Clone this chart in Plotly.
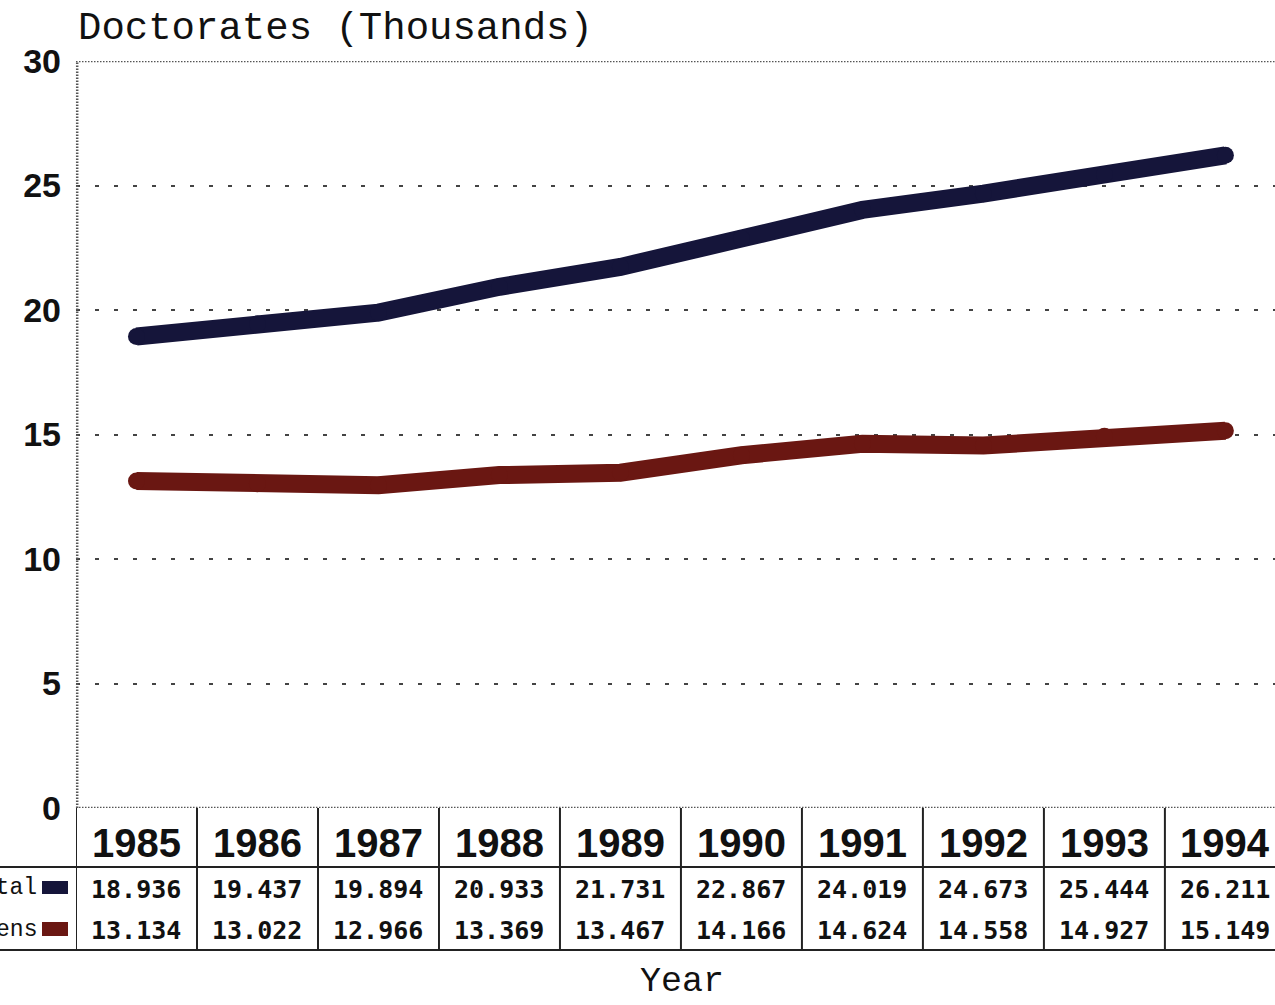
import plotly.graph_objects as go

years = ["1985", "1986", "1987", "1988", "1989", "1990", "1991", "1992", "1993", "1994"]
total = [18.936, 19.437, 19.894, 20.933, 21.731, 22.867, 24.019, 24.673, 25.444, 26.211]
citizens = [13.134, 13.022, 12.966, 13.369, 13.467, 14.166, 14.624, 14.558, 14.927, 15.149]
series_names = ["Total", "U.S. Citizens"]
series_colors = ["#15153a", "#6a1712"]
y_ticks = [0, 5, 10, 15, 20, 25, 30]

W, H = 1275, 1005
L, T, B = 76, 61, 197
plot_h = H - T - B
plot_w = W - L

def py(pix):
    return (H - B - pix) / plot_h

def px(pix):
    return (pix - L) / plot_w

xi = list(range(len(years)))
fig = go.Figure()
for name, vals, col in zip(series_names, [total, citizens], series_colors):
    fig.add_trace(go.Scatter(x=xi, y=vals, name=name, mode="lines+markers",
                             line=dict(color=col, width=18),
                             marker=dict(color=col, size=17),
                             hoverinfo="skip", showlegend=False))

shapes = []
ann = []
line_col = "#222"
frame = dict(color="#555", width=2.5, dash="1.5px,1.5px")
shapes.append(dict(type="line", xref="paper", yref="y", x0=0, x1=1, y0=30, y1=30, line=frame))
shapes.append(dict(type="line", xref="paper", yref="y", x0=0, x1=1, y0=0, y1=0, line=frame))
shapes.append(dict(type="line", xref="paper", yref="paper", x0=0.001, x1=0.001, y0=0, y1=1,
                   line=frame))
# table lines
for i in range(len(years) + 1):
    shapes.append(dict(type="line", xref="x", yref="paper", x0=i - 0.5, x1=i - 0.5,
                       y0=0, y1=py(950), line=dict(color=line_col, width=2)))
for yy in (867, 950):
    shapes.append(dict(type="line", xref="paper", yref="paper", x0=px(0), x1=1,
                       y0=py(yy), y1=py(yy), line=dict(color=line_col, width=2)))
# legend swatches
for (ya, yb), col in zip([(881, 894), (922, 936)], series_colors):
    shapes.append(dict(type="rect", xref="paper", yref="paper", x0=px(42), x1=px(68),
                       y0=py(yb), y1=py(ya), fillcolor=col, line=dict(width=0)))
# row labels (cut off at the left edge, as in the original)
for yy, name in zip([888, 930], series_names):
    ann.append(dict(text=name, xref="paper", yref="paper", x=px(39), y=py(yy),
                    xanchor="right", yanchor="middle", showarrow=False,
                    font=dict(family="Liberation Mono", size=23, color="#111")))
# table content
for i, yr in enumerate(years):
    ann.append(dict(text=yr, xref="x", yref="paper", x=i, y=py(843), xanchor="center",
                    yanchor="middle", showarrow=False,
                    font=dict(family="Liberation Sans", size=40, color="#111", weight="bold")))
    for yy, vals in zip([889, 930], [total, citizens]):
        ann.append(dict(text=f"{vals[i]:.3f}", xref="x", yref="paper", x=i, y=py(yy),
                        xanchor="center", yanchor="middle", showarrow=False,
                        font=dict(family="DejaVu Sans Mono", size=25, color="#111",
                                  weight="bold")))
# titles
ann.append(dict(text="Doctorates (Thousands)", xref="paper", yref="paper", x=0, y=py(29),
                xanchor="left", yanchor="middle", showarrow=False,
                font=dict(family="Liberation Mono", size=39, color="#111")))
ann.append(dict(text="Year", xref="paper", yref="paper", x=px(682), y=py(982),
                xanchor="center", yanchor="middle", showarrow=False,
                font=dict(family="Liberation Mono", size=35, color="#111")))

fig.update_layout(
    width=W, height=H, margin=dict(l=L, r=0, t=T, b=B),
    paper_bgcolor="white", plot_bgcolor="white",
    shapes=shapes, annotations=ann,
    xaxis=dict(range=[-0.5, 9.41], showticklabels=False, showgrid=False, zeroline=False,
               ticks=""),
    yaxis=dict(range=[0, 30], tickvals=y_ticks, showgrid=True, gridcolor="#444",
               gridwidth=2, griddash="4px,15px", zeroline=False, ticks="",
               ticklabelstandoff=14,
               tickfont=dict(family="Liberation Sans", size=34, color="#111", weight="bold")),
)
fig.write_html("out.html", config={"displayModeBar": False},
               post_script="document.body.style.margin='0px';document.body.style.overflow='hidden';")
